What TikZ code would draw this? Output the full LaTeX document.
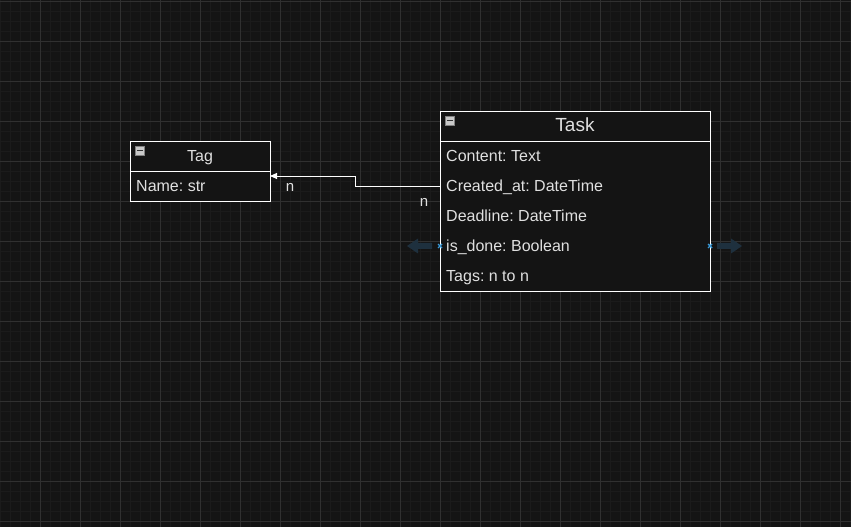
\documentclass[tikz,border=0pt]{standalone}
\usepackage{fontspec}
\setmainfont{Liberation Sans}
\usetikzlibrary{arrows.meta}
\frenchspacing
\definecolor{bg}{HTML}{141414}
\definecolor{minorgrid}{HTML}{1B1B1B}
\definecolor{majorgrid}{HTML}{303030}
\definecolor{txt}{HTML}{E0E0E0}
\definecolor{hoverarrow}{HTML}{1E303E}
\definecolor{hoverx}{HTML}{3A9AD9}
\definecolor{iconfill}{HTML}{C8C8C8}
\definecolor{icondark}{HTML}{333333}
\begin{document}
\begin{tikzpicture}[x=1bp,y=-1bp,
  boxpart/.style={draw=white, line width=0.9bp, fill=bg, anchor=north west, inner sep=0pt, outer sep=0pt},
  rowtext/.style={anchor=base west, inner sep=0pt, text=txt, font=\fontsize{16bp}{19bp}\selectfont},
  headtext/.style={anchor=base, inner sep=0pt, text=txt},
  conn/.style={draw=white, line width=0.9bp},
  lbl/.style={anchor=base, inner sep=0pt, text=txt, font=\fontsize{15bp}{18bp}\selectfont},
  minusicon/.style={draw=gray, fill=iconfill, line width=0.5bp, minimum size=9bp, inner sep=0pt, anchor=north west},
  hover/.style={fill=hoverarrow},
  hovermark/.style={draw=hoverx, line width=1.4bp}
]
% background and grid
\fill[bg] (0,0) rectangle (851,527);
\useasboundingbox (0,0) rectangle (851,527);
\foreach \x in {0,10,...,850} \draw[minorgrid, line width=0.8bp] (\x,0) -- (\x,527);
\foreach \y in {1,11,...,521} \draw[minorgrid, line width=0.8bp] (0,\y) -- (851,\y);
\foreach \x in {40,80,...,840} \draw[majorgrid, line width=0.9bp] (\x,0) -- (\x,527);
\foreach \y in {1,41,...,521} \draw[majorgrid, line width=0.9bp] (0,\y) -- (851,\y);

% Tag entity
\node[boxpart, minimum width=140bp, minimum height=30bp] (taghead) at (130,141) {};
\node[boxpart, minimum width=140bp, minimum height=30bp] (tagbody) at (130,171) {};
\node[headtext, font=\fontsize{16bp}{19bp}\selectfont] (tagtitle) at (200,162) {Tag};
\node[rowtext] (tagname) at (136,192) {Name: str};
\node[minusicon] (tagicon) at (135,146) {};
\draw[icondark, line width=1.3bp] ([xshift=2bp]tagicon.west) -- ([xshift=-2bp]tagicon.east);

% Task entity
\node[boxpart, minimum width=270bp, minimum height=30bp] (taskhead) at (440,111) {};
\node[boxpart, minimum width=270bp, minimum height=150bp] (taskbody) at (440,141) {};
\node[headtext, font=\fontsize{19bp}{22bp}\selectfont] (tasktitle) at (575,132) {Task};
\node[minusicon] (taskicon) at (445,116) {};
\draw[icondark, line width=1.3bp] ([xshift=2bp]taskicon.west) -- ([xshift=-2bp]taskicon.east);
\node[rowtext] (content) at (446,162) {Content: Text};
\node[rowtext] (created) at (446,192) {Created\_at: DateTime};
\node[rowtext] (deadline) at (446,222) {Deadline: DateTime};
\node[rowtext] (isdone) at (446,252) {is\_done: Boolean};
\node[rowtext] (tags) at (446,282) {Tags: n to n};

% connector
\coordinate (start) at (440,186);
\coordinate (bend) at (355.5,176);
\coordinate (tagin) at (270,176);
\draw[conn, -{Triangle[length=7bp,width=6bp]}] (start) -- (start -| bend) -- (bend) -- (tagin);
\node[lbl] (n1) at (290,192) {n};
\node[lbl] (n2) at (424,207) {n};

% hover handles
\fill[hover] (407,246) -- (418,238.5) -- (418,243) -- (432,243) -- (432,249) -- (418,249) -- (418,253.5) -- cycle;
\fill[hover] (742,246) -- (731,238.5) -- (731,243) -- (717,243) -- (717,249) -- (731,249) -- (731,253.5) -- cycle;
\draw[hovermark] (438,244) -- (442,248) (438,248) -- (442,244);
\draw[hovermark] (708,244) -- (712,248) (708,248) -- (712,244);
\end{tikzpicture}
\end{document}
